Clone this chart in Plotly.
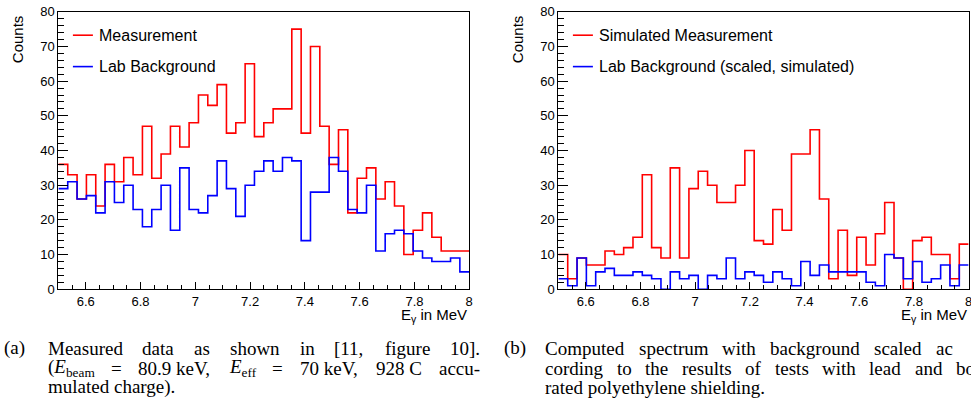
import re
import numpy as np
import plotly.graph_objects as go

W, H = 971, 409

# Binning of the gamma-energy histograms (MeV)
e_min, e_max, n_bins = 6.5, 8.0, 44

# (a) measured spectrum and lab background, counts per bin
measured = [36, 33, 26, 33, 24, 36, 31, 38, 33, 47, 32, 39, 47, 41, 48, 56, 53, 59, 45, 48,
            65, 44, 48, 52, 52, 75, 45, 70, 47, 36, 46, 22, 32, 35, 26, 31, 24, 10, 17, 22,
            15, 11, 11, 11]
lab_background = [29, 31, 26, 27, 22, 31, 25, 30, 23, 18, 23, 30, 17, 35, 23, 22, 27, 37, 29, 21,
                  30, 34, 37, 34, 38, 37, 14, 28, 28, 38, 34, 23, 22, 30, 11, 16, 17, 16, 11, 9,
                  8, 8, 9, 5]

# (b) simulated measurement and scaled, simulated lab background
sim_measurement = [10, 3, 9, 7, 7, 11, 10, 12, 15, 33, 12, 9, 35, 9, 29, 34, 30, 25, 25, 30,
                   40, 14, 13, 23, 17, 39, 39, 46, 26, 3, 17, 4, 15, 7, 16, 25, 9, 0, 14, 15,
                   10, 10, 3, 13]
sim_background = [3, 1, 9, 1, 5, 6, 4, 4, 5, 4, 3, 0, 5, 3, 4, 0, 4, 3, 9, 3,
                  5, 4, 2, 5, 3, 1, 8, 4, 7, 5, 5, 5, 5, 2, 1, 10, 9, 3, 8, 2,
                  3, 7, 1, 7]

x_tick_vals = [6.6, 6.8, 7.0, 7.2, 7.4, 7.6, 7.8, 8.0]
x_tick_text = ["6.6", "6.8", "7", "7.2", "7.4", "7.6", "7.8", "8"]
y_tick_vals = [0, 10, 20, 30, 40, 50, 60, 70, 80]
y_tick_text = ["0", "10", "20", "30", "40", "50", "60", "70", "80"]

legend_a = ["Measurement", "Lab Background"]
legend_b = ["Simulated Measurement", "Lab Background (scaled, simulated)"]

RED = "#ff0000"
BLUE = "#0000ff"
SANS = "Liberation Sans, Arial, sans-serif"
SERIF = "Liberation Serif, Times New Roman, serif"
CAPTION_SIZE = 19

edges = np.linspace(e_min, e_max, n_bins + 1)


def outline(values):
    """Histogram outline: bin edges with the last content repeated for the closing step."""
    return edges, list(values) + [values[-1]]


fig = go.Figure()
for vals, color, xa, ya in [
    (measured, RED, "x", "y"),
    (lab_background, BLUE, "x", "y"),
    (sim_measurement, RED, "x2", "y2"),
    (sim_background, BLUE, "x2", "y2"),
]:
    xs, ys = outline(vals)
    fig.add_trace(go.Scatter(x=xs, y=ys, mode="lines", line=dict(color=color, width=1.6, shape="hv"),
                             xaxis=xa, yaxis=ya, showlegend=False, hoverinfo="skip"))

# pixel geometry of the two frames
panels = [(58.4, 469.2), (558.4, 968.6)]
y_top, y_bot = 11.8, 289.2


def px(x):
    return x / W


def py(y):
    return 1 - y / H


tick_font = dict(family=SANS, size=13, color="black")
common_x = dict(range=[e_min, e_max], showline=True, mirror=True, linecolor="black", linewidth=1,
                ticks="inside", ticklen=7, tickwidth=1, tickcolor="black",
                tickvals=x_tick_vals, ticktext=x_tick_text, tickfont=tick_font,
                ticklabeloverflow="allow",
                minor=dict(ticks="inside", dtick=0.05, tick0=e_min, ticklen=4, tickwidth=1,
                           tickcolor="black", showgrid=False),
                showgrid=False, zeroline=False, fixedrange=True, automargin=False)
common_y = dict(range=[0, 80], showline=True, mirror=True, linecolor="black", linewidth=1,
                ticks="inside", ticklen=10, tickwidth=1, tickcolor="black",
                tickvals=y_tick_vals, ticktext=y_tick_text, tickfont=tick_font,
                minor=dict(ticks="inside", dtick=2, tick0=0, ticklen=6, tickwidth=1,
                           tickcolor="black", showgrid=False),
                showgrid=False, zeroline=False, fixedrange=True, automargin=False)

fig.update_layout(
    width=W, height=H, margin=dict(l=0, r=0, t=0, b=0, pad=0, autoexpand=False),
    paper_bgcolor="white", plot_bgcolor="white", showlegend=False,
    xaxis=dict(domain=[px(panels[0][0]), px(panels[0][1])], anchor="y", **common_x),
    yaxis=dict(domain=[py(y_bot), py(y_top)], anchor="x", **common_y),
    xaxis2=dict(domain=[px(panels[1][0]), px(panels[1][1])], anchor="y2", **common_x),
    yaxis2=dict(domain=[py(y_bot), py(y_top)], anchor="x2", **common_y),
)

annotations = []
shapes = []

for (x0, x1), labels in zip(panels, [legend_a, legend_b]):
    # axis titles, ROOT style: placed at the far end of each axis
    annotations.append(dict(x=px(x0 - 41.5), y=py(y_top + 1.5), xref="paper", yref="paper",
                            text="Counts", textangle=-90, showarrow=False,
                            xanchor="center", yanchor="top",
                            font=dict(family=SANS, size=15, color="black")))
    annotations.append(dict(x=px(x1), y=py(315), xref="paper", yref="paper",
                            text="E<sub>γ</sub> in MeV", showarrow=False,
                            xanchor="right", yanchor="middle",
                            font=dict(family=SANS, size=15, color="black")))
    # legend entries
    for row_y, color, label in zip([35.2, 66.6], [RED, BLUE], labels):
        shapes.append(dict(type="line", xref="paper", yref="paper",
                           x0=px(x0 + 14.5), x1=px(x0 + 34.5), y0=py(row_y), y1=py(row_y),
                           line=dict(color=color, width=1.6)))
        annotations.append(dict(x=px(x0 + 38.5), y=py(row_y), xref="paper", yref="paper",
                                text=label, showarrow=False, xanchor="left", yanchor="middle",
                                font=dict(family=SANS, size=16, color="black")))

# --- sub-figure captions (justified, word by word) ---
# advance widths of the serif face, in 1/1000 em
GLYPH_W = {" ": 250, "(": 333, ")": 333, "[": 333, "]": 333, ",": 250, ".": 250, "-": 333,
           "=": 564, "a": 444, "b": 500, "c": 444, "d": 500, "e": 444, "f": 333, "g": 500,
           "h": 500, "i": 278, "k": 500, "l": 278, "m": 778, "n": 500, "o": 500, "p": 500,
           "r": 333, "s": 389, "t": 278, "u": 500, "w": 722, "y": 500, "C": 667, "E": 611,
           "M": 889, "V": 722}


def text_width(html, size):
    total = 0.0
    for part in re.split(r"(<sub>.*?</sub>)", html):
        scale = 0.7 if part.startswith("<sub>") else 1.0
        plain = re.sub(r"<[^>]+>", "", part)
        total += scale * sum(GLYPH_W.get(ch, 500) for ch in plain)
    return total * size / 1000.0


def justify(words, x_start, x_last, size):
    """Left edges for words spread so the last word starts at x_last."""
    widths = [text_width(w, size) for w in words]
    gap = (x_last - x_start - sum(widths[:-1])) / (len(words) - 1)
    xs, x = [], x_start
    for w in widths:
        xs.append(x)
        x += w + gap
    return xs


def justify_to_edge(words, x_start, x_end, size):
    last_w = text_width(words[-1], size)
    return justify(words, x_start, x_end - last_w, size)


line_y = [348, 368, 387]
caption_a = [
    ["Measured", "data", "as", "shown", "in", "[11,", "figure", "10]."],
    ["(<i>E</i><sub>beam</sub>", "=", "80.9 keV,", "<i>E</i><sub>eff</sub>", "=", "70 keV,",
     "928 C", "accu-"],
]
caption_a_last = "mulated charge)."
caption_b = [
    ["Computed", "spectrum", "with", "background", "scaled", "ac"],
    ["cording", "to", "the", "results", "of", "tests", "with", "lead", "and", "bo"],
]
caption_b_last = "rated polyethylene shielding."

placed = [("(a)", 2, line_y[0]), ("(b)", 501.7, line_y[0])]
for words, y in zip(caption_a, line_y):
    placed += list(zip(words, justify_to_edge(words, 45.5, 478, CAPTION_SIZE), [y] * len(words)))
placed.append((caption_a_last, 45.5, line_y[2]))
for words, y, x_last in zip(caption_b, line_y, [934, 953.5]):
    placed += list(zip(words, justify(words, 543.3, x_last, CAPTION_SIZE), [y] * len(words)))
placed.append((caption_b_last, 543.3, line_y[2]))

for text, x, y in placed:
    annotations.append(dict(x=px(x), y=py(y), xref="paper", yref="paper", text=text,
                            showarrow=False, xanchor="left", yanchor="middle",
                            font=dict(family=SERIF, size=CAPTION_SIZE, color="black")))

fig.update_layout(annotations=annotations, shapes=shapes)
fig.write_html("out.html")
